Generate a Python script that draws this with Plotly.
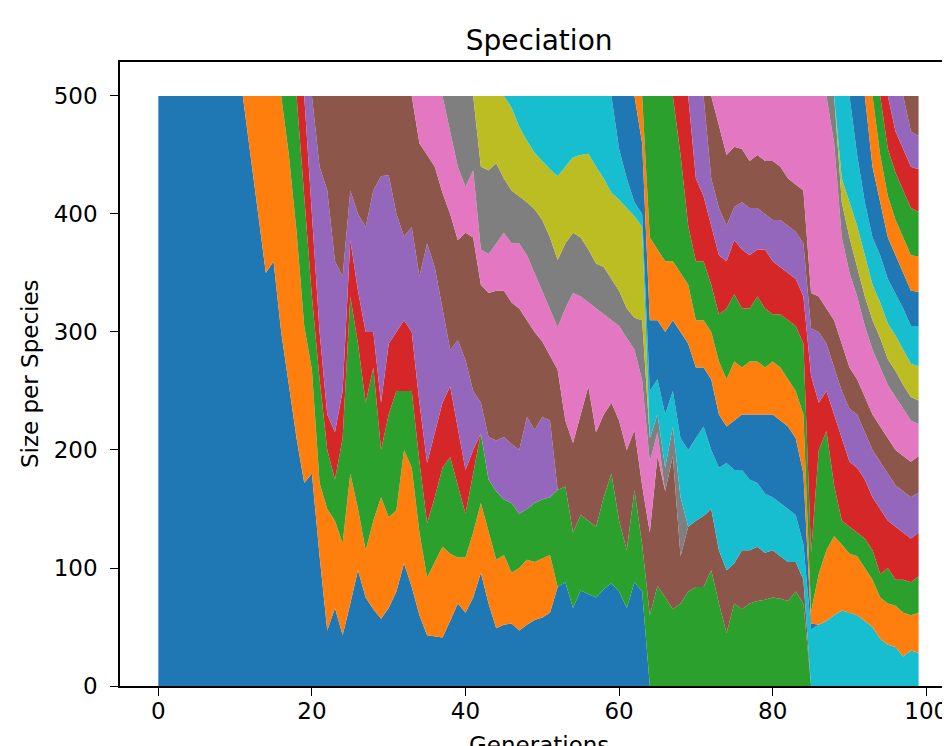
import plotly.graph_objects as go

generations = list(range(100))
palette = ["#1f77b4", "#ff7f0e", "#2ca02c", "#d62728", "#9467bd",
           "#8c564b", "#e377c2", "#7f7f7f", "#bcbd22", "#17becf"]

# species sizes, each list starts at the generation given in species_start
species_start = [0, 11, 16, 18, 19, 20, 33, 37, 41, 45, 59, 62, 63, 67, 69, 71, 72, 87, 88, 88, 90, 92, 93, 94, 95, 97]

sp00 = [500]*12 + [450, 400, 350, 360, 300, 255, 210, 172, 180, 110, 47, 66, 43, 70, 98, 75, 65, 57, 66, 80,
        104, 84, 60, 43, 42, 41, 55, 70, 62, 75, 96, 70, 49, 52, 53, 47, 52, 56, 58, 62, 84, 88, 66, 81, 78,
        75, 82, 87, 80, 66, 88, 80, 0]
sp01 = [0, 50, 100, 150, 140, 200, 195, 175, 133, 88, 62, 103, 74, 78, 110, 52, 40, 75, 103, 77, 69, 96, 101,
        70, 49, 63, 77, 57, 39, 47, 55, 59, 60, 58, 59, 43, 53, 55, 49, 50, 49, 0]
sp02 = [0, 50, 115, 110, 62, 88, 50, 35, 89, 150, 140, 125, 130, 40, 87, 101, 50, 65, 60, 46, 55, 67, 82, 61,
        37, 50, 59, 45, 58, 47, 59, 46, 43, 50, 50, 49, 82, 81, 64, 64, 62, 60, 78, 93, 60, 49, 78, 40, 60, 85,
        75, 65, 70, 80, 84, 84, 98, 70, 45, 70, 65, 70, 72, 73, 75, 74, 72, 80, 70, 0]
sp03 = [0, 85, 70, 40, 30, 40, 40, 48, 45, 60, 30, 40, 60, 50, 60, 50, 50, 51, 55, 55, 60, 50, 37, 20, 0]
sp04 = [0, 100, 140, 190, 145, 97, 42, 65, 89, 120, 192, 143, 100, 71, 89, 107, 186, 140, 80, 31, 73, 93, 50,
        26, 36, 43, 53, 50, 54, 78, 62, 70, 65, 0]
sp05 = [0, 60, 80, 140, 153, 80, 100, 111, 80, 68, 67, 100, 119, 111, 113, 75, 85, 98, 115, 85, 108, 130, 100,
        122, 127, 124, 120, 120, 82, 83, 64, 55, 102, 56, 76, 85, 114, 80, 70, 60, 85, 85, 51, 50, 70, 110, 90,
        130, 40, 55, 56, 60, 52, 45, 53, 34, 50, 45, 46, 40, 40, 36, 33, 25, 20, 0]
sp06 = [0, 40, 50, 60, 82, 70, 62, 39, 57, 30, 33, 40, 49, 50, 55, 55, 50, 43, 40, 36, 95, 127, 100, 71, 105,
        85, 70, 80, 95, 68, 89, 60, 20, 0]
sp07 = [0, 30, 60, 77, 63, 70, 71, 68, 46, 45, 40, 45, 54, 60, 60, 57, 55, 51, 50, 45, 38, 40, 35, 30, 25, 27,
        51, 20, 15, 20, 25, 50, 0]
sp08 = [0, 60, 63, 57, 70, 70, 59, 52, 48, 50, 58, 71, 65, 64, 70, 81, 82, 75, 73, 77, 85, 86, 79, 0]
sp09 = [0, 10, 26, 38, 48, 55, 62, 68, 60, 52, 50, 49, 60, 70, 82, 43, 25, 12, 11, 40, 30, 45, 30, 50, 65, 70,
        76, 50, 70, 91, 79, 68, 60, 54, 50, 45, 45, 45, 40, 30, 48, 52, 55, 60, 64, 62, 60, 55, 50, 40, 35, 33,
        25, 30, 28]
sp10 = [0, 45, 70, 90, 60, 60, 50, 70, 60, 90, 90, 60, 50, 60, 45, 31, 42, 47, 55, 58, 67, 70, 70, 70, 65, 60,
        5, 0]
sp11 = [0, 40, 70, 60, 60, 50, 50, 50, 40, 40, 40, 45, 40, 50, 40, 45, 45, 40, 45, 45, 40, 40, 50, 10, 43, 60,
        67, 56, 50, 50, 45, 40, 35, 35, 35, 37, 30, 34]
sp12 = [0, 120, 130, 140, 140, 100, 50, 50, 50, 40, 40, 60, 57, 50, 45, 55, 50, 40, 45, 50, 55, 60, 50, 105, 101,
        43, 20, 23, 20, 25, 25, 20, 30, 22, 28, 28, 31]
sp13 = [0, 50, 110, 70, 55, 50, 50, 40, 46, 50, 45, 40, 50, 45, 40, 40, 40, 40, 150, 40, 34, 60, 70, 55, 55, 50,
        45, 55, 40, 45, 40, 37, 37]
sp14 = [0, 70, 85, 40, 40, 30, 28, 40, 40, 35, 30, 35, 40, 40, 40, 45, 40, 60, 40, 40, 40, 45, 45, 40, 40, 40,
        40, 35, 35, 35, 34]
sp15 = [0, 70, 70, 60, 51, 45, 40, 45, 45, 50, 45, 40, 40, 45, 30, 30, 30, 40, 40, 35, 30, 30, 30, 30, 30, 30,
        30, 30, 31]
sp16 = [0, 25, 50, 43, 45, 55, 50, 55, 55, 60, 70, 75, 80, 167, 170, 180, 150, 90, 80, 70, 60, 55, 50, 45, 45,
        40, 35, 27]
sp17 = [0, 40, 30, 30, 25, 25, 25, 25, 22, 22, 20, 20, 20]
sp18 = [0, 20, 30, 35, 35, 30, 30, 30, 30, 30, 28, 29]
sp19 = [0, 70, 90, 60, 45, 40, 40, 38, 35, 35, 32, 34]
sp20 = [0, 50, 90, 60, 45, 35, 33, 30, 30, 29]
sp21 = [0, 60, 40, 35, 30, 30, 30, 30]
sp22 = [0, 50, 40, 40, 40, 40, 38]
sp23 = [0, 45, 35, 35, 35, 36]
sp24 = [0, 30, 45, 30, 28]
sp25 = [0, 30, 34]

species = [sp00, sp01, sp02, sp03, sp04, sp05, sp06, sp07, sp08, sp09, sp10, sp11, sp12,
           sp13, sp14, sp15, sp16, sp17, sp18, sp19, sp20, sp21, sp22, sp23, sp24, sp25]

x_ticks = [0, 20, 40, 60, 80, 100]
y_ticks = [0, 100, 200, 300, 400, 500]

fig = go.Figure()
for i, (start, vals) in enumerate(zip(species_start, species)):
    full = [0] * len(generations)
    for k, v in enumerate(vals):
        if start + k < len(full):
            full[start + k] = v
    fig.add_trace(go.Scatter(
        x=generations, y=full, stackgroup="one", mode="lines",
        line=dict(width=0, color=palette[i % 10]),
        fillcolor=palette[i % 10], showlegend=False, hoverinfo="skip"))

font = "DejaVu Sans"
W, H = 942, 738  # page body adds an 8px offset
fig.update_layout(
    width=W, height=H,
    margin=dict(l=112, r=0, t=54, b=60),
    paper_bgcolor="white", plot_bgcolor="white",
    font=dict(family=font, size=23, color="black"),
    title=dict(text="Speciation", x=0.505, xref="paper", xanchor="center",
               y=1 - 32 / H, yref="container", yanchor="middle",
               font=dict(family=font, size=28, color="black")),
    showlegend=False,
)
fig.update_xaxes(range=[-4.99, 103.09], tickvals=x_ticks, ticks="outside", ticklen=8,
                 tickwidth=1.3, tickcolor="black", showline=True, linecolor="black",
                 linewidth=1.5, mirror=True, showgrid=False, zeroline=False,
                 tickfont=dict(family=font, size=23, color="black"), ticklabelstandoff=-4)
fig.update_yaxes(range=[0, 528.8], tickvals=y_ticks, ticks="outside", ticklen=8,
                 tickwidth=1.3, tickcolor="black", showline=True, linecolor="black",
                 linewidth=1.5, mirror=False, showgrid=False, zeroline=False,
                 tickfont=dict(family=font, size=23, color="black"), ticklabelstandoff=8)
fig.add_annotation(text="Size per Species", textangle=-90, x=(30 - 120) / 830, y=0.5,
                   xref="paper", yref="paper", xanchor="center", yanchor="middle",
                   showarrow=False, font=dict(family=font, size=23, color="black"))
fig.add_annotation(text="Generations", x=0.505, y=-(730 - 686) / 624,
                   xref="paper", yref="paper", xanchor="center", yanchor="top",
                   showarrow=False, font=dict(family=font, size=23, color="black"))
fig.write_html("out.html")
